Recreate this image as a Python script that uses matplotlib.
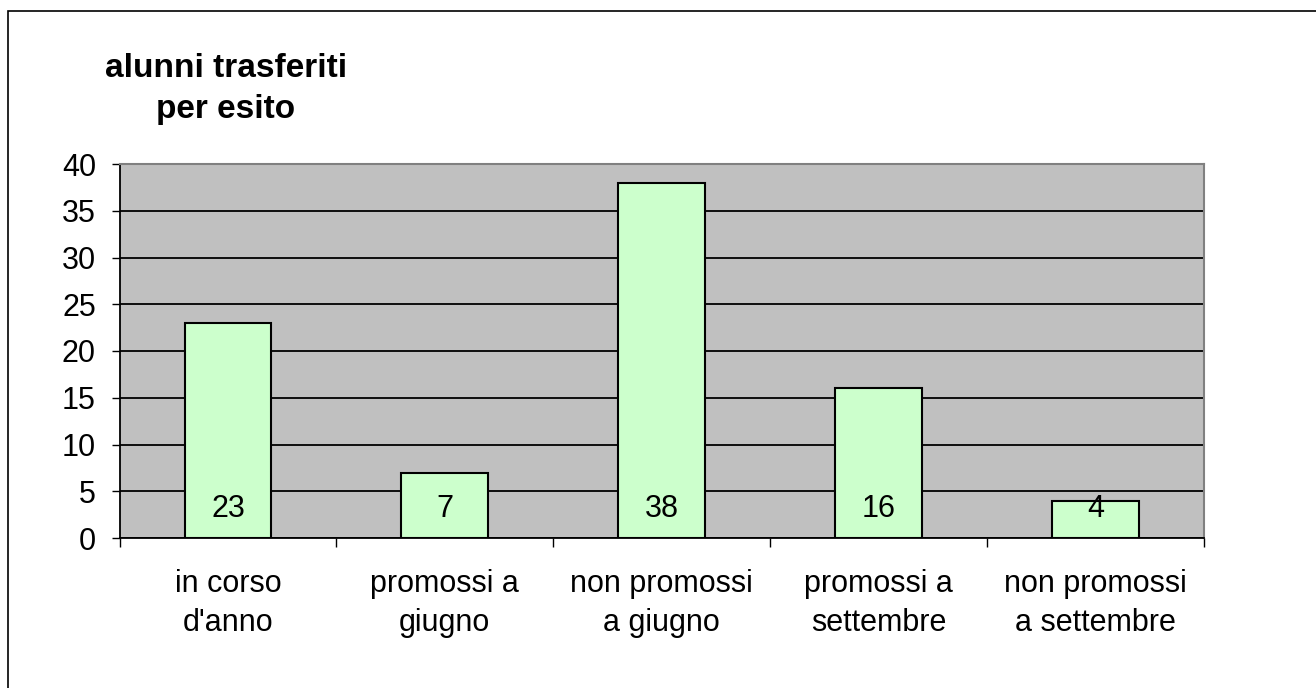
import matplotlib.pyplot as plt
from matplotlib.patches import Rectangle

# data
categories = ["in corso\nd'anno", "promossi a\ngiugno", "non promossi\na giugno",
              "promossi a\nsettembre", "non promossi\na settembre"]
values = [23, 7, 38, 16, 4]
yticks = [0, 5, 10, 15, 20, 25, 30, 35, 40]

plt.rcParams['font.family'] = ['Liberation Sans', 'DejaVu Sans']

W, H = 1316, 688
fig = plt.figure(figsize=(W / 100, H / 100), dpi=100)

# chart-area border (only left and top visible in the crop)
fig.add_artist(Rectangle((7.5 / W, -0.1), 1.2, (H - 10.5) / H + 0.1,
                         transform=fig.transFigure, fill=False,
                         edgecolor='black', linewidth=1.2))

left, right, top, bottom = 119.5, 1204, 164, 538
ax = fig.add_axes([left / W, (H - bottom) / H, (right - left) / W, (bottom - top) / H])
ax.set_facecolor('#C0C0C0')

x = list(range(len(values)))
ax.bar(x, values, width=0.4, color='#CCFFCC', edgecolor='black', linewidth=1.5, zorder=3)
for xi, v in zip(x, values):
    ax.text(xi, 3.1, str(v), ha='center', va='center', fontsize=22, zorder=4)

ax.set_xlim(-0.5, len(values) - 0.5)
ax.set_ylim(0, 40)
ax.set_yticks(yticks)
ax.set_yticklabels([str(t) for t in yticks], fontsize=22)
ax.yaxis.grid(True, color='black', linewidth=1.3, zorder=1)
ax.set_axisbelow(True)

ax.set_xticks(x)
ax.set_xticklabels(categories, fontsize=22, linespacing=1.42)
ax.tick_params(axis='x', length=0, pad=22)
ax.set_xticks([i + 0.5 for i in range(-1, len(values))], minor=True)
ax.tick_params(axis='x', which='minor', length=6.5, width=1, color='black')
ax.tick_params(axis='y', length=6, width=1, pad=11)

for s in ['top', 'right']:
    ax.spines[s].set_color('#808080')
    ax.spines[s].set_linewidth(1.5)
for s in ['left', 'bottom']:
    ax.spines[s].set_color('black')
    ax.spines[s].set_linewidth(1.3)

fig.text(226 / W, 1 - 53 / H, "alunni trasferiti\nper esito", ha='center', va='top',
         fontsize=24, fontweight='bold', linespacing=1.4)

fig.savefig('out.png', dpi=100)
